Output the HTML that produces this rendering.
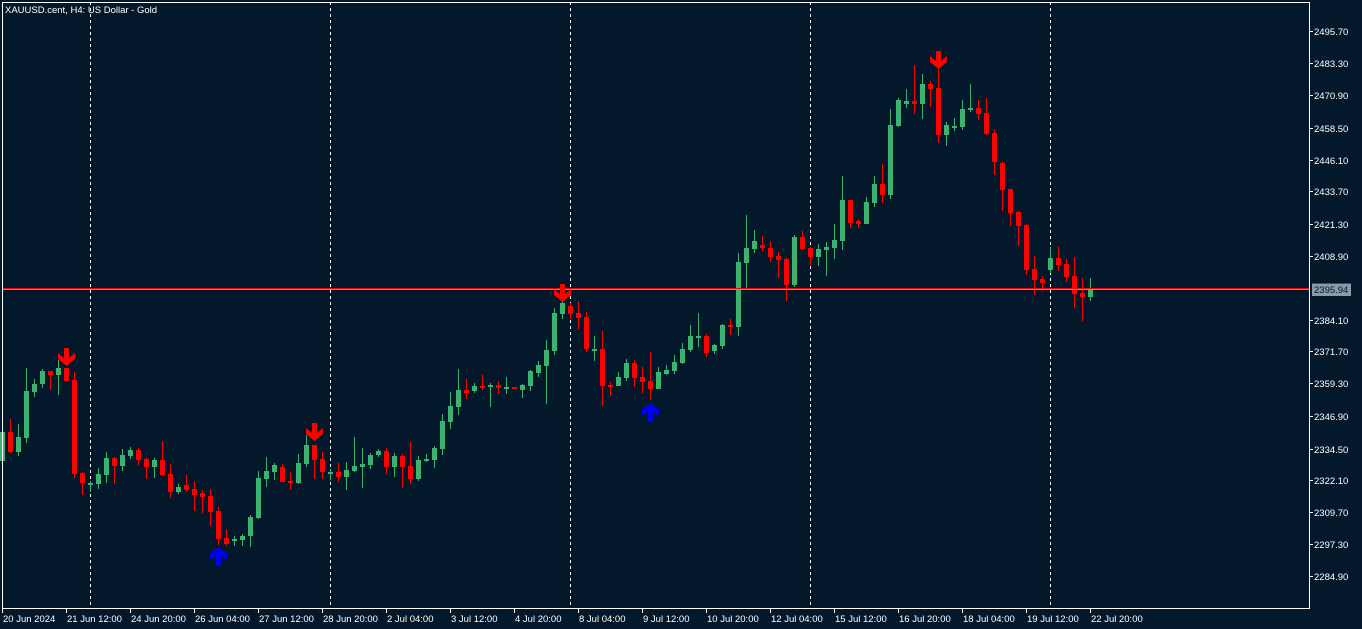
<!DOCTYPE html>
<html><head><meta charset="utf-8"><style>
html,body{margin:0;padding:0;background:#03192b;}
svg{display:block;}
text{font-family:"Liberation Sans",sans-serif;font-size:9.5px;fill:#ffffff;}
</style></head><body>
<svg id="c" width="1362" height="629" xmlns="http://www.w3.org/2000/svg">
<rect width="1362" height="629" fill="#03192b"/>
</svg>
<script>
var C=[
[461,432,425,462],[432,452,419,453],[452,437,424,456],[438,391,368,443],[392,384,379,397],[384,371,369,388],[371,375,371,390],[375,368,360,395],[368,381,368,381],[380,474,372,478],
[473,483,472,495],[485,483,481,492],[484,474,468,489],[475,458,452,483],[458,466,457,484],[466,455,449,471],[456,450,447,459],[450,460,448,465],[459,467,457,479],[467,460,458,478],
[460,475,441,476],[474,492,464,498],[492,487,484,494],[485,490,475,492],[489,495,481,511],[493,497,490,513],[496,512,489,526],[511,539,507,545],[538,544,529,546],[541,539,536,546],
[540,536,534,546],[536,517,515,547],[518,478,471,519],[479,471,457,487],[472,465,463,480],[467,482,464,482],[481,483,472,489],[483,463,454,484],[464,445,435,467],[445,460,445,479],
[459,472,452,479],[474,472,469,480],[472,477,463,482],[477,470,462,490],[471,466,437,472],[467,464,448,488],[465,455,453,469],[455,451,449,457],[451,467,448,474],[467,456,453,477],
[456,467,454,488],[466,479,442,484],[479,460,456,481],[460,459,454,462],[460,448,446,468],[449,421,414,455],[422,406,392,429],[407,390,369,415],[390,393,379,399],[391,386,383,393],
[386,387,375,390],[387,385,383,407],[385,388,381,394],[388,387,377,394],[387,389,387,389],[390,385,384,398],[386,371,370,391],[373,365,361,377],[366,350,340,404],[351,313,308,355],
[314,303,300,319],[306,314,303,319],[313,318,301,329],[317,349,312,352],[350,349,336,361],[349,386,331,406],[385,387,382,396],[386,377,372,386],[378,363,359,381],[363,378,360,387],
[377,382,367,393],[381,389,352,400],[389,372,367,389],[374,370,365,375],[371,362,355,374],[363,349,343,364],[350,336,325,352],[337,336,313,347],[336,353,334,357],[351,345,344,354],
[346,325,324,349],[325,327,319,335],[327,262,253,336],[263,248,215,289],[249,241,230,253],[245,248,236,251],[248,257,241,262],[256,260,252,278],[259,285,257,301],[285,237,235,287],
[237,249,231,250],[248,257,247,265],[257,249,244,266],[250,247,242,276],[248,240,224,259],[241,200,176,250],[200,223,200,228],[221,224,219,228],[224,202,197,224],[203,184,176,207],
[184,195,164,203],[195,125,109,199],[126,100,98,127],[104,101,89,108],[101,104,65,114],[104,84,74,119],[84,89,81,107],[88,135,69,143],[135,125,122,146],[128,126,118,131],
[127,109,100,130],[110,108,84,112],[108,114,100,120],[113,134,98,135],[133,162,129,175],[163,190,161,211],[189,213,189,226],[212,226,211,246],[225,270,224,275],[269,280,256,295],
[279,283,276,291],[270,258,247,273],[258,265,247,271],[264,277,259,282],[276,294,257,308],[293,297,278,321],[297,289,278,301]];
var s='',G='#3cb371',R='#ff0000';
[90,330,570,810,1050].forEach(function(x){s+='<line x1="'+(x+.5)+'" y1="2" x2="'+(x+.5)+'" y2="608" stroke="#ffffff" stroke-width="1" stroke-dasharray="3,3"/>';});
C.forEach(function(c,k){var x=2+8*k,o=c[0],cl=c[1],h=c[2],l=c[3];var col=(cl<o)?G:(cl>o?R:G);
if(k==53||k==41||k==29||k==74||k==87)col=G;
s+='<rect x="'+x+'" y="'+h+'" width="1" height="'+Math.max(1,l-h)+'" fill="'+col+'"/>';
var t=Math.min(o,cl),b=Math.max(o,cl);s+='<rect x="'+(x-2)+'" y="'+t+'" width="5" height="'+Math.max(2,b-t)+'" fill="'+col+'"/>';});
s+='<rect x="2" y="288" width="1307" height="1" fill="#ff0000"/><rect x="2" y="289" width="1307" height="1" fill="#8a9aa8"/>';
function down(x,tip){return '<path d="M'+(x-2)+' '+(tip-18)+'h5v10l6-5v6l-8.5 7-8.5-7v-6l6 5z" fill="#ff0000"/>';}
function up(x,tip){return '<path d="M'+(x-2)+' '+(tip+21)+'h5v-11l6 5v-6l-8.5-7-8.5 7v6l6-5z" fill="#0000ff"/>';}
s+=down(66,366)+down(314,441)+down(562,302)+down(938,69);
s+=up(218,545)+up(650,401);
s+='<path d="M2.5 2.5H1309.5V608.5H2.5Z" fill="none" stroke="#ffffff" stroke-width="1"/>';
var Y=[["2495.70",31],["2483.30",63],["2470.90",95],["2458.50",128],["2446.10",160],["2433.70",191],["2421.30",224],["2408.90",256],["2384.10",320],["2371.70",351],["2359.30",383],["2346.90",416],["2334.50",449],["2322.10",480],["2309.70",512],["2297.30",544],["2284.90",576]];
Y.forEach(function(a){s+='<rect x="1310" y="'+a[1]+'" width="3" height="1" fill="#fff"/><text x="1314" y="'+(a[1]+4)+'">'+a[0]+'</text>';});
s+='<rect x="1312" y="283" width="39" height="13" fill="#8a9aa8"/><rect x="1312" y="283" width="39" height="1" fill="#ff0000"/><text x="1314" y="293" style="fill:#03192b">2395.94</text>';
var X=["20 Jun 2024","21 Jun 12:00","24 Jun 20:00","26 Jun 04:00","27 Jun 12:00","28 Jun 20:00","2 Jul 04:00","3 Jul 12:00","4 Jul 20:00","8 Jul 04:00","9 Jul 12:00","10 Jul 20:00","12 Jul 04:00","15 Jul 12:00","16 Jul 20:00","18 Jul 04:00","19 Jul 12:00","22 Jul 20:00"];
X.forEach(function(t,i){var x=2+64*i;s+='<rect x="'+x+'" y="609" width="1" height="4" fill="#fff"/><text x="'+(x+1)+'" y="622">'+t+'</text>';});
s+='<text x="5" y="13">XAUUSD.cent, H4:  US Dollar - Gold</text>';
document.getElementById('c').insertAdjacentHTML('beforeend',s);
</script>
</body></html>
